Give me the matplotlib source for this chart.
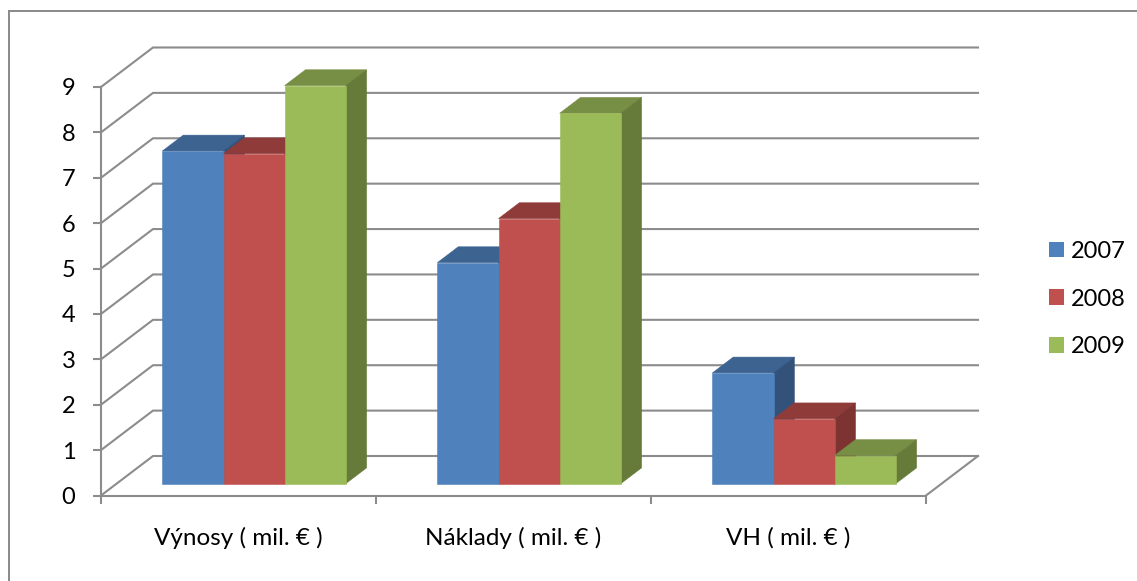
import matplotlib
matplotlib.use('Agg')
import matplotlib.pyplot as plt
from matplotlib.lines import Line2D
from matplotlib.patches import Patch, Polygon

plt.rcParams['font.family'] = ['Lato', 'DejaVu Sans']

# Hodnoty v mil. EUR
kategorie = ['Výnosy ( mil. € )', 'Náklady ( mil. € )', 'VH ( mil. € )']
roky = ['2007', '2008', '2009']
hodnoty_2007 = [7.33, 4.87, 2.44]
hodnoty_2008 = [7.27, 5.84, 1.43]
hodnoty_2009 = [8.77, 8.16, 0.62]
osa_y = [0, 1, 2, 3, 4, 5, 6, 7, 8, 9]

barvy_cela = ['#4F81BD', '#C0504D', '#9BBB59']
barvy_vrch = ['#3D6391', '#8F3B39', '#778E45']
barvy_bok = ['#33527A', '#7C3331', '#667A3A']
seda = '#8C8C8C'

SIRKA, VYSKA = 1137, 581

# Sikma projekce: posun zadni steny oproti predni, v jednotkach os
hloubka_x = 52 / 275
hloubka_y = 39.5 / 45.39
sirka_sloupce = 1 / 4.5
mezera_pred = 0.3
hloubka_sloupce = 0.4


def posun(x, y, f):
    return x + f * hloubka_x, y + f * hloubka_y


def tracer_sloupec(ax, x0, vyska, idx):
    x1 = x0 + sirka_sloupce
    pred_l = posun(x0, 0, mezera_pred)
    pred_r = posun(x1, 0, mezera_pred)
    hor_l = posun(x0, vyska, mezera_pred)
    hor_r = posun(x1, vyska, mezera_pred)
    zad_l = posun(x0, vyska, mezera_pred + hloubka_sloupce)
    zad_r = posun(x1, vyska, mezera_pred + hloubka_sloupce)
    zad_r0 = posun(x1, 0, mezera_pred + hloubka_sloupce)

    ax.add_patch(Polygon([hor_l, hor_r, zad_r, zad_l], closed=True, facecolor=barvy_vrch[idx],
                         edgecolor=barvy_vrch[idx], lw=0.4, clip_on=False, zorder=3))
    ax.add_patch(Polygon([pred_r, zad_r0, zad_r, hor_r], closed=True, facecolor=barvy_bok[idx],
                         edgecolor=barvy_bok[idx], lw=0.4, clip_on=False, zorder=3))
    ax.add_patch(Polygon([pred_l, pred_r, hor_r, hor_l], closed=True, facecolor=barvy_cela[idx],
                         edgecolor=barvy_cela[idx], lw=0.4, clip_on=False, zorder=3))


fig = plt.figure(figsize=(SIRKA / 100, VYSKA / 100), dpi=100)

# Ramecek grafu, viditelna je jen horni a leva strana
fig.add_artist(Line2D([9 / SIRKA, 9 / SIRKA, 1], [0, 1 - 11 / VYSKA, 1 - 11 / VYSKA], transform=fig.transFigure,
                      color=seda, lw=1.45, solid_joinstyle='miter'))

ax = fig.add_axes([101 / SIRKA, (VYSKA - 495.5) / VYSKA, 825 / SIRKA, 408.5 / VYSKA])
ax.set_xlim(0, 3)
ax.set_ylim(0, 9)
ax.patch.set_visible(False)

# Zadni stena a leva stena
for v in osa_y:
    xz, yz = posun(0, v, 1)
    xk, yk = posun(3, v, 1)
    ax.plot([0, xz, xk], [v, yz, yk], color=seda, lw=1.5, clip_on=False, zorder=1, solid_joinstyle='miter')
xk, yk = posun(3, 0, 1)
ax.plot([3, xk], [0, yk], color=seda, lw=1.5, clip_on=False, zorder=1)

for i in range(len(kategorie)):
    for j, hodnoty in enumerate([hodnoty_2007, hodnoty_2008, hodnoty_2009]):
        x0 = i + 0.5 - 1.5 * sirka_sloupce + j * sirka_sloupce
        tracer_sloupec(ax, x0, hodnoty[i], j)

for s in ['top', 'right']:
    ax.spines[s].set_visible(False)
for s in ['left', 'bottom']:
    ax.spines[s].set_color(seda)
    ax.spines[s].set_linewidth(1.5)

ax.set_yticks(osa_y)
ax.set_xticks([0, 1, 2, 3])
ax.set_xticklabels([])
ax.tick_params(axis='both', color=seda, width=1.5, length=5.5, labelsize=17, labelcolor='black')
ax.tick_params(axis='y', pad=13)
for i, nazev in enumerate(kategorie):
    ax.annotate(nazev, xy=(i + 0.5, 0), xytext=(0, -42), textcoords='offset pixels', ha='center', va='center',
                fontsize=17.5, color='black', annotation_clip=False)

ruce = [Patch(facecolor=barvy_cela[k], label=roky[k]) for k in range(3)]
fig.legend(handles=ruce, loc='center left', bbox_to_anchor=(1028 / SIRKA, (VYSKA - 299) / VYSKA), frameon=False,
           fontsize=17, handlelength=0.635, handleheight=0.635, handletextpad=0.3, labelspacing=1.135)

fig.savefig('out.png', dpi=100)
